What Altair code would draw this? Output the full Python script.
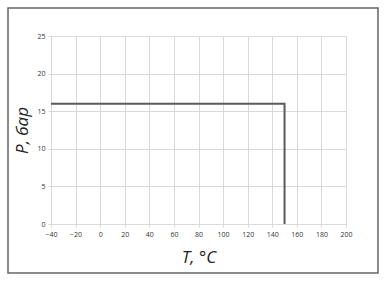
import altair as alt
import pandas as pd

t_values = [-40, 150, 150]
p_values = [16, 16, 0]
x_ticks = list(range(-40, 201, 20))
y_ticks = [0, 5, 10, 15, 20, 25]

df = pd.DataFrame({"T": t_values, "P": p_values, "order": [0, 1, 2]})

W, H = 295, 188
PL, PT = 51, 36

common = dict(labelFontSize=7, labelColor="#333333", tickColor="#d9d9d9", tickSize=3,
              domain=False, gridColor="#d9d9d9", labelPadding=3, titleFontSize=17,
              titleFontStyle="italic", titleFontWeight="normal", titleColor="#222222",
              titleFont="Open Sans", labelFont="Open Sans", labelFlush=False,
              labelOverlap=False)

line = alt.Chart(df).mark_line(color="#595959", strokeWidth=2, clip=False).encode(
    x=alt.X("T:Q", scale=alt.Scale(domain=[-40, 200], nice=False, zero=False),
            axis=alt.Axis(values=x_ticks, title="T, °C", titlePadding=12, **common)),
    y=alt.Y("P:Q", scale=alt.Scale(domain=[0, 25], nice=False),
            axis=alt.Axis(values=y_ticks, title="P, бар", titlePadding=5, **common)),
    order="order:Q",
)

frame = alt.Chart(pd.DataFrame({"a": [0]})).mark_rect(
    fill=None, stroke="#666666", strokeWidth=1.5, clip=False
).encode(
    x=alt.value(8 - PL), x2=alt.value(378 - PL),
    y=alt.value(8 - PT), y2=alt.value(273 - PT),
)

chart = alt.layer(line, frame).properties(
    width=W, height=H,
    autosize=alt.AutoSizeParams(type="none"),
    padding={"left": PL, "top": PT, "right": 388 - PL - W, "bottom": 283 - PT - H},
    background="white",
).configure_view(stroke=None)

chart.save("out.html", embed_options={"renderer": "svg", "actions": False})
